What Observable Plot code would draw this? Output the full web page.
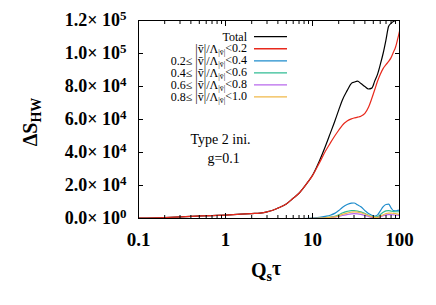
<!DOCTYPE html>
<html><head><meta charset="utf-8">
<script src="https://cdn.jsdelivr.net/npm/d3@7"></script>
<script src="https://cdn.jsdelivr.net/npm/@observablehq/plot@0.6"></script>
<style>body{margin:0;background:#fff} svg{display:block}</style>
</head><body><div id="chart"></div>
<script>
const tau = [0.1,0.2,0.4,0.7,1,1.5,2,2.5,3,3.5,4,5,6,7,8,9,10,12,14,16,18,20,22,25,28,30,33,36,40,44,48,52,56,60,65,70,75,80,85,90,95,100];
const total = [200,600,1300,1800,2100,2600,3000,3300,4000,5000,6300,8800,12300,15300,19000,22600,26200,34900,43500,51600,58800,65700,71700,77500,81900,82600,83200,81800,80000,78500,79000,83400,87500,93100,100300,108400,116500,118300,119400,120000,121000,122500];
const band1 = [200,600,1300,1800,2100,2600,3000,3300,4000,5000,6300,8800,12300,15300,19000,22600,26000,33700,40600,45700,50000,53500,56500,59100,60400,60900,61400,62000,63700,67400,72700,78200,83300,87300,91000,93300,95200,97500,100700,103800,108500,113500];
const band2 = [0,0,0,0,0,0,0,0,0,0,0,0,0,0,0,100,300,700,1300,2000,3100,4800,6700,8500,9300,9400,8300,7100,4800,3000,2000,1400,2200,4500,7200,8500,8700,6500,4800,4700,4900,5200];
const band3 = [0,0,0,0,0,0,0,0,0,0,0,0,0,0,0,0,100,300,600,900,1300,2200,3300,4300,4800,4800,4500,4000,3000,2000,1300,900,1100,2300,3800,4600,4800,4500,4200,4100,4100,4100];
const band4 = [0,0,0,0,0,0,0,0,0,0,0,0,0,0,0,0,30,150,300,500,800,1200,1800,2400,2800,2900,2800,2500,1900,1200,700,500,600,1000,1700,2200,2400,2400,2200,2100,2000,1900];
const band5 = [0,0,0,0,0,0,0,0,0,0,0,0,0,0,0,0,50,200,400,700,1000,1600,2500,3300,3800,4000,3900,3500,2700,1800,1100,700,700,1200,2200,3000,3300,3300,3100,2900,2700,2500];

const seriesValues = [total, band1, band2, band3, band4, band5];
const seriesColors = ["#000000", "#e8291c", "#1e8ccc", "#30bc94", "#b868ec", "#f0b848"];
const seriesLow = [null, null, "0.2", "0.4", "0.6", "0.8"];
const seriesHigh = [null, "0.2", "0.4", "0.6", "0.8", "1.0"];

const xMajor = [0.1, 1, 10, 100];
const xMinor = [0.2,0.3,0.4,0.5,0.6,0.7,0.8,0.9,2,3,4,5,6,7,8,9,20,30,40,50,60,70,80,90];
const yTicks = [0, 20000, 40000, 60000, 80000, 100000, 120000];

const notes = [
  {tau: 0.396, v: 47600, text: "Type 2 ini."},
  {tau: 0.62, v: 36100, text: "g=0.1"}
];

const rows = [];
seriesValues.forEach((vals, i) => vals.forEach((v, j) => rows.push({tau: tau[j], v, s: i, c: seriesColors[i]})));

const serif = "'Liberation Serif','Times New Roman',serif";
const fmtY = d => {
  if (d === 0) return "0.0|0";
  const e = Math.floor(Math.log10(d));
  return (d / 10 ** e).toFixed(1) + "|" + e;
};
const blank = () => "";

const svg = Plot.plot({
  width: 436, height: 305,
  marginLeft: 138, marginRight: 37, marginTop: 20, marginBottom: 87,
  style: {fontFamily: serif, background: "#fff"},
  x: {type: "log", domain: [0.1, 100]},
  y: {domain: [0, 120000]},
  marks: [
    Plot.line(rows, {x: "tau", y: "v", z: "s", stroke: "c", strokeWidth: 1.2, curve: "monotone-x", clip: true}),
    Plot.axisX(xMajor, {anchor: "bottom", tickSize: -5, tickFormat: blank, label: null}),
    Plot.axisX(xMajor, {anchor: "top", tickSize: -5, tickFormat: blank, label: null}),
    Plot.axisX(xMinor, {anchor: "bottom", tickSize: -3, tickFormat: blank, label: null}),
    Plot.axisX(xMinor, {anchor: "top", tickSize: -3, tickFormat: blank, label: null}),
    Plot.axisX(xMajor, {anchor: "bottom", tickSize: 0, tickPadding: 14, tickFormat: d => String(d), fontSize: 19, fontWeight: "bold", label: null, fill: "#000"}),
    Plot.axisY(yTicks, {anchor: "left", tickSize: -5, tickFormat: blank, label: null}),
    Plot.axisY(yTicks, {anchor: "right", tickSize: -5, tickFormat: blank, label: null}),
    Plot.axisY(yTicks, {anchor: "left", tickSize: 0, tickPadding: 12, tickFormat: fmtY, fontSize: 18, fontWeight: "bold", label: null, fill: "#000"}),
    Plot.frame({stroke: "#000"}),
    Plot.text(notes, {x: "tau", y: "v", text: "text", textAnchor: "start", fontSize: 14, fill: "#000"})
  ]
});

const s = d3.select(svg);
s.selectAll("text").each(function() {
  const t = d3.select(this);
  const str = t.text();
  if (!str.includes("|") || t.selectAll("tspan").size() > 0) return;
  const [m, e] = str.split("|");
  t.text(null);
  t.append("tspan").text(m + "\u00d7 10");
  t.append("tspan").attr("dy", "-0.45em").attr("font-size", "0.72em").text(e);
});

// axis titles
const xl = s.append("text").attr("x", 266).attr("y", 277).attr("text-anchor", "middle")
  .attr("font-family", serif).attr("font-weight", "bold").attr("font-size", 20).attr("fill", "#000");
xl.append("tspan").text("Q");
xl.append("tspan").attr("font-size", "0.7em").attr("dy", "0.3em").text("s");
xl.append("tspan").attr("dy", "-0.3em").text("\u03c4");

const yl = s.append("text").attr("transform", "translate(37,122) rotate(-90)").attr("text-anchor", "middle")
  .attr("font-family", serif).attr("font-weight", "bold").attr("font-size", 20).attr("fill", "#000");
yl.append("tspan").text("\u0394S");
yl.append("tspan").attr("font-size", "0.7em").attr("dy", "0.3em").text("HW");

// legend
const vb = "|v\u0304|";
const lg = s.append("g").attr("font-family", serif).attr("font-size", 12).attr("fill", "#000");
seriesValues.forEach((_, i) => {
  const y = 36.7 + 12.05 * i;
  const t = lg.append("text").attr("x", 247).attr("y", y).attr("dy", "0.32em").attr("text-anchor", "end");
  if (i === 0) {
    t.text("Total");
  } else {
    t.append("tspan").text((seriesLow[i] ? seriesLow[i] + "\u2264 " : "") + vb + "/\u039b");
    t.append("tspan").attr("font-size", "0.65em").attr("dy", "0.25em").text(vb);
    t.append("tspan").attr("dy", "-0.25em").text("<" + seriesHigh[i]);
  }
  lg.append("line").attr("x1", 254).attr("x2", 287).attr("y1", y).attr("y2", y)
    .attr("stroke", seriesColors[i]).attr("stroke-width", 1.3);
});

document.getElementById("chart").appendChild(svg);
</script>
</body></html>
